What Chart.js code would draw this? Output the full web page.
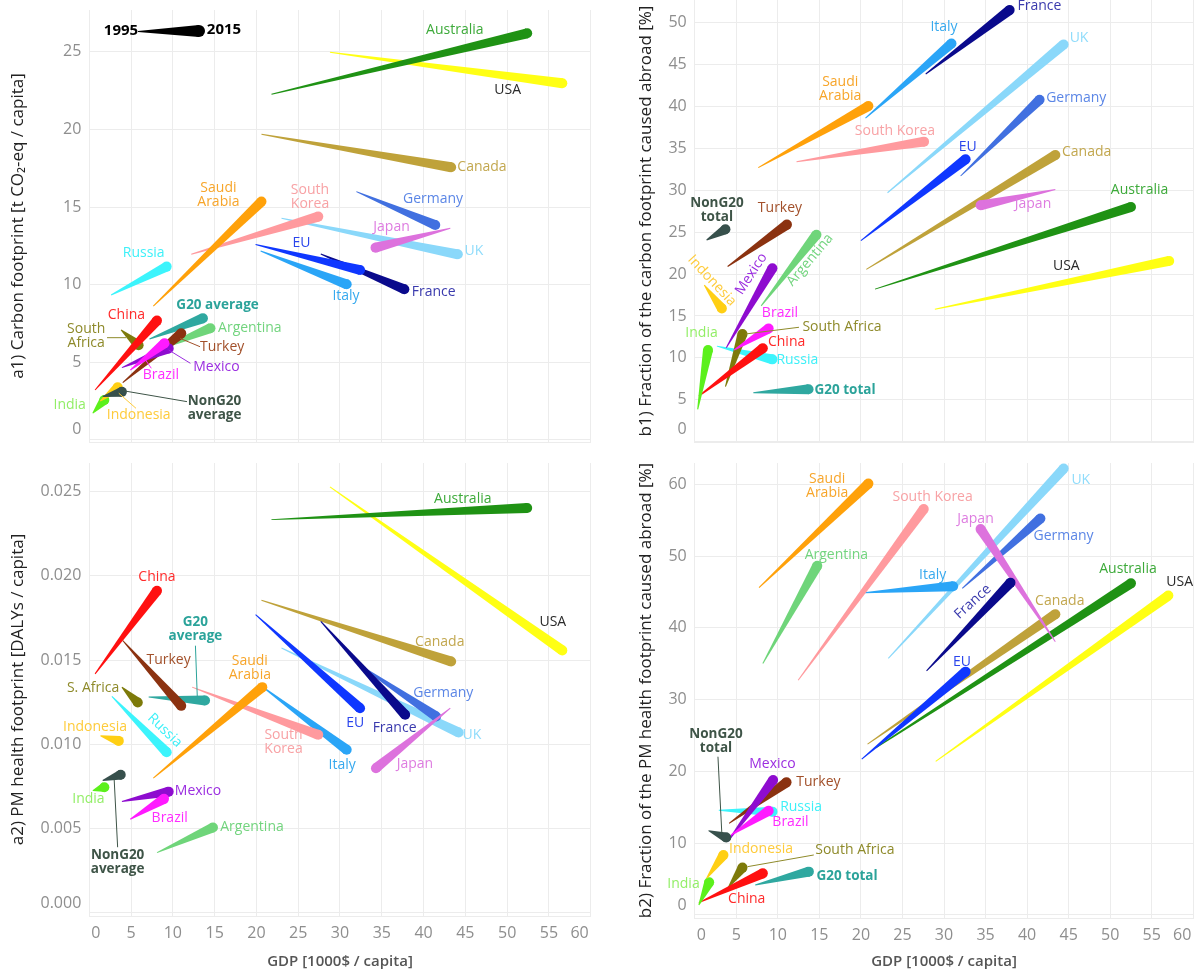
<!DOCTYPE html>
<html>
<head>
<meta charset="utf-8">
<title>Footprints vs GDP, 1995-2015</title>
<script src="https://cdn.jsdelivr.net/npm/chart.js@4.4.1/dist/chart.umd.min.js"></script>
<style>
  body { margin: 0; background: #fff; }
  #wrap { position: relative; width: 1198px; height: 976px; }
  #wrap canvas { position: absolute; }
</style>
</head>
<body>
<div id="wrap">
  <canvas id="a1" width="600" height="450" style="left:0;top:0"></canvas>
  <canvas id="b1" width="598" height="450" style="left:600px;top:0"></canvas>
  <canvas id="a2" width="600" height="526" style="left:0;top:450px"></canvas>
  <canvas id="b2" width="598" height="526" style="left:600px;top:450px"></canvas>
</div>
<script>
// countries / groups, same order in every panel (later ones draw on top)
const entities = ['USA', 'Australia', 'Canada', 'UK', 'Germany', 'Japan', 'France', 'EU', 'Italy',
  'South Korea', 'Saudi Arabia', 'Russia', 'G20', 'Argentina', 'Turkey', 'South Africa', 'China',
  'Mexico', 'Brazil', 'India', 'Indonesia', 'NonG20'];

// a1) carbon footprint per capita [t CO2-eq]
const a1Gdp95 = [28.8, 21.8, 20.6, 23.0, 31.96, 43.2, 27.7, 19.9, 20.5, 12.2, 7.66, 2.61, 7.2, 8.1, 4.0, 3.8, 0.69, 3.9, 4.9, 0.41, 1.3, 1.6];
const a1Gdp15 = [56.6, 52.4, 43.3, 44.1, 41.4, 34.25, 37.7, 32.4, 30.8, 27.4, 20.6, 9.26, 13.6, 14.5, 11.0, 5.9, 8.1, 9.5, 9.0, 1.8, 3.4, 3.9];
const a1Val95 = [24.98, 22.27, 19.7, 14.28, 16.0, 13.64, 11.98, 12.6, 12.18, 11.96, 8.63, 9.34, 6.5, 5.8, 3.7, 7.1, 3.22, 4.66, 4.5, 1.72, 2.5, 2.8];
const a1Val15 = [22.98, 26.2, 17.57, 11.96, 13.85, 12.39, 9.71, 10.95, 10.03, 14.39, 15.36, 11.17, 7.84, 7.2, 6.87, 6.1, 7.69, 5.9, 6.23, 2.58, 3.39, 3.1];

// a2) PM health footprint per capita [DALYs]
const a2Gdp95 = [28.8, 21.8, 20.6, 23.0, 31.96, 43.2, 27.7, 19.9, 20.5, 12.3, 7.66, 2.7, 7.1, 8.1, 4.0, 3.9, 0.69, 3.9, 4.9, 0.41, 1.33, 1.6];
const a2Gdp15 = [56.6, 52.4, 43.3, 44.2, 41.5, 34.3, 37.8, 32.4, 30.8, 27.4, 20.7, 9.26, 13.85, 14.8, 11.0, 5.8, 8.1, 9.5, 8.94, 1.8, 3.53, 3.76];
const a2Val95 = [0.02528, 0.02334, 0.01855, 0.01572, 0.01483, 0.01215, 0.0173, 0.0177, 0.0135, 0.0134, 0.0080, 0.01285, 0.01281, 0.00358, 0.01617, 0.0134, 0.01419, 0.00661, 0.00556, 0.00726, 0.01051, 0.00786];
const a2Val15 = [0.01558, 0.02403, 0.01492, 0.01071, 0.01166, 0.00859, 0.01176, 0.01215, 0.00968, 0.01057, 0.0134, 0.00954, 0.01261, 0.00507, 0.01229, 0.01249, 0.01912, 0.0072, 0.00677, 0.00746, 0.01021, 0.0082];

// b1) share of the carbon footprint caused abroad [%]
const b1Gdp95 = [28.9, 21.7, 20.65, 23.2, 32.0, 43.4, 27.8, 20.0, 20.55, 12.25, 7.65, 2.67, 7.05, 8.0, 3.96, 3.7, 0.5, 3.8, 4.75, 0.36, 1.15, 1.43];
const b1Gdp15 = [57.1, 52.5, 43.4, 44.4, 41.5, 34.4, 37.9, 32.6, 30.9, 27.6, 20.9, 9.35, 13.7, 14.65, 11.1, 5.75, 8.2, 9.35, 8.9, 1.6, 3.27, 3.7];
const b1Val95 = [15.8, 18.2, 20.56, 29.7, 31.7, 30.1, 43.87, 24.0, 38.6, 33.4, 32.7, 11.4, 5.85, 16.2, 20.9, 6.56, 5.45, 11.2, 10.94, 3.86, 18.7, 24.07];
const b1Val15 = [21.56, 28.0, 34.2, 47.4, 40.8, 28.2, 51.5, 33.7, 47.5, 35.8, 40.05, 9.82, 6.25, 24.7, 25.9, 12.85, 11.14, 20.7, 13.5, 10.94, 15.9, 25.34];

// b2) share of the PM health footprint caused abroad [%]
const b2Gdp95 = [29.0, 21.8, 20.8, 23.3, 32.2, 43.4, 27.9, 20.1, 20.4, 12.45, 7.74, 2.9, 7.28, 8.2, 4.14, 4.05, 0.5, 3.95, 4.38, 0.5, 1.43, 1.66];
const b2Gdp15 = [57.0, 52.5, 43.4, 44.4, 41.6, 34.4, 38.0, 32.6, 31.1, 27.56, 20.9, 9.36, 13.74, 14.75, 11.05, 5.75, 8.2, 9.44, 8.9, 1.74, 3.46, 3.8];
const b2Val95 = [21.4, 23.3, 23.8, 35.75, 45.5, 38.07, 34.0, 21.7, 44.9, 32.7, 45.6, 14.6, 4.18, 35.05, 12.77, 3.85, 1.72, 10.2, 11.14, 1.39, 5.1, 11.75];
const b2Val15 = [44.5, 46.2, 41.9, 62.2, 55.25, 53.76, 46.3, 33.9, 45.8, 56.55, 60.1, 14.4, 6.04, 48.65, 18.48, 6.6, 5.8, 18.8, 14.53, 4.55, 8.36, 10.8];

// year key in panel a1 (1995 thin end -> 2015 thick end)
const keyGdp = [5.83, 13.13];
const keyVal = [26.31, 26.35];

const shapeColors = {
  'USA': '#ffff14', 'Australia': '#1f9214', 'Canada': '#bfa23a', 'UK': '#8ad8fa', 'Germany': '#4170e0',
  'Japan': '#dd72dd', 'France': '#0a0a8c', 'EU': '#0f37ff', 'Italy': '#2aa5f7', 'South Korea': '#ff9a9e',
  'Saudi Arabia': '#ffa10a', 'Russia': '#3cf4fc', 'G20': '#2fa8a0', 'Argentina': '#6fd57a', 'Turkey': '#8b3210',
  'South Africa': '#7d7a0a', 'China': '#ff1010', 'Mexico': '#8e0ccf', 'Brazil': '#ff1aff', 'India': '#5cf01c',
  'Indonesia': '#ffcf14', 'NonG20': '#37504c', 'key': '#000000'
};
const labelColors = {
  'USA': '#2a2a2a', 'Australia': '#3daa3a', 'Canada': '#c2a74e', 'UK': '#8fdcfb', 'Germany': '#5b86e6',
  'Japan': '#de7ce0', 'France': '#3a3aad', 'EU': '#2a45ec', 'Italy': '#37a9ee', 'South Korea': '#f8a2a5',
  'Saudi Arabia': '#f7a52a', 'Russia': '#3ef0f8', 'G20': '#2ba39a', 'Argentina': '#72d47e', 'Turkey': '#a2502a',
  'South Africa': '#8e8a2a', 'China': '#ff2a2a', 'Mexico': '#9b2ee0', 'Brazil': '#ff2cff', 'India': '#92ee66',
  'Indonesia': '#fecb3a', 'NonG20': '#3e5447', 'key': '#000000'
};

// text annotations, anchored in data units (x = GDP, y = panel value)
const a1Labels = [
  {e: 'key', t: '1995', x: 3.79, y: 26.35, b: 1, s: 15}, {e: 'key', t: '2015', x: 16.12, y: 26.40, b: 1, s: 15},
  {e: 'Australia', t: 'Australia', x: 43.74, y: 26.42}, {e: 'USA', t: 'USA', x: 50.07, y: 22.55},
  {e: 'Canada', t: 'Canada', x: 46.99, y: 17.57}, {e: 'Saudi Arabia', t: ['Saudi', 'Arabia'], x: 15.45, y: 15.79},
  {e: 'South Korea', t: ['South', 'Korea'], x: 26.41, y: 15.64}, {e: 'Germany', t: 'Germany', x: 41.13, y: 15.51},
  {e: 'Japan', t: 'Japan', x: 36.17, y: 13.74}, {e: 'UK', t: 'UK', x: 46.03, y: 12.18},
  {e: 'EU', t: 'EU', x: 25.39, y: 12.67}, {e: 'Russia', t: 'Russia', x: 6.51, y: 12.03},
  {e: 'Italy', t: 'Italy', x: 30.72, y: 9.28}, {e: 'France', t: 'France', x: 41.21, y: 9.52},
  {e: 'G20', t: 'G20 average', x: 15.35, y: 8.70, b: 1}, {e: 'China', t: 'China', x: 4.44, y: 8.05},
  {e: 'Argentina', t: 'Argentina', x: 19.21, y: 7.2},
  {e: 'South Africa', t: ['South', 'Africa'], x: -0.37, y: 6.7, line: [2.12, 6.59, 4.44, 6.59]},
  {e: 'Turkey', t: 'Turkey', x: 15.9, y: 5.97, line: [13.25, 6.01, 10.85, 6.55]},
  {e: 'Mexico', t: 'Mexico', x: 15.22, y: 4.68, line: [12.1, 4.94, 9.49, 5.8]},
  {e: 'Brazil', t: 'Brazil', x: 8.57, y: 4.19, line: [7.42, 4.62, 6.74, 5.15]},
  {e: 'India', t: 'India', x: -2.35, y: 2.26},
  {e: 'Indonesia', t: 'Indonesia', x: 5.91, y: 1.61, line: [5.59, 2.04, 3.53, 3.01]},
  {e: 'NonG20', t: ['NonG20', 'average'], x: 14.99, y: 2.04, b: 1, line: [11.69, 2.47, 3.98, 3.18]}
];
const a2Labels = [
  {e: 'Australia', t: 'Australia', x: 44.69, y: 0.02458}, {e: 'USA', t: 'USA', x: 55.47, y: 0.01724},
  {e: 'Canada', t: 'Canada', x: 41.94, y: 0.01605}, {e: 'China', t: 'China', x: 8.1, y: 0.01993},
  {e: 'G20', t: ['G20', 'average'], x: 12.7, y: 0.01685, b: 1, line: [12.7, 0.01586, 12.92, 0.01284]},
  {e: 'Turkey', t: 'Turkey', x: 9.49, y: 0.01502}, {e: 'Saudi Arabia', t: ['Saudi', 'Arabia'], x: 19.21, y: 0.01453},
  {e: 'South Africa', t: 'S. Africa', x: 0.45, y: 0.01334}, {e: 'Germany', t: 'Germany', x: 42.36, y: 0.01305},
  {e: 'Indonesia', t: 'Indonesia', x: 0.68, y: 0.01106}, {e: 'Russia', t: 'Russia', x: 9.03, y: 0.01083, r: 44},
  {e: 'EU', t: 'EU', x: 31.82, y: 0.0113}, {e: 'France', t: 'France', x: 36.53, y: 0.01097},
  {e: 'South Korea', t: ['South', 'Korea'], x: 23.24, y: 0.01015}, {e: 'UK', t: 'UK', x: 45.79, y: 0.01053},
  {e: 'Italy', t: 'Italy', x: 30.25, y: 0.00879}, {e: 'Japan', t: 'Japan', x: 38.97, y: 0.00883},
  {e: 'Mexico', t: 'Mexico', x: 13.01, y: 0.00724}, {e: 'India', t: 'India', x: -0.1, y: 0.00677},
  {e: 'Brazil', t: 'Brazil', x: 9.62, y: 0.00566}, {e: 'Argentina', t: 'Argentina', x: 19.47, y: 0.00509},
  {e: 'NonG20', t: ['NonG20', 'average'], x: 3.39, y: 0.00299, b: 1, line: [3.39, 0.0039, 2.98, 0.0079]}
];
const b1Labels = [
  {e: 'France', t: 'France', x: 41.49, y: 51.99}, {e: 'Italy', t: 'Italy', x: 30.0, y: 49.45},
  {e: 'UK', t: 'UK', x: 46.25, y: 48.14}, {e: 'Saudi Arabia', t: ['Saudi', 'Arabia'], x: 17.51, y: 42.11},
  {e: 'South Korea', t: 'South Korea', x: 24.1, y: 37.08}, {e: 'Germany', t: 'Germany', x: 45.91, y: 40.98},
  {e: 'EU', t: 'EU', x: 32.86, y: 35.2}, {e: 'Canada', t: 'Canada', x: 47.16, y: 34.53},
  {e: 'Japan', t: 'Japan', x: 40.71, y: 28.37}, {e: 'Australia', t: 'Australia', x: 53.53, y: 30.04},
  {e: 'USA', t: 'USA', x: 44.72, y: 20.97}, {e: 'NonG20', t: ['NonG20', 'total'], x: 2.67, y: 27.59, b: 1},
  {e: 'Turkey', t: 'Turkey', x: 10.26, y: 27.85}, {e: 'Indonesia', t: 'Indonesia', x: 2.07, y: 19.21, r: 47},
  {e: 'Mexico', t: 'Mexico', x: 6.81, y: 20.01, r: -57}, {e: 'Argentina', t: 'Argentina', x: 13.87, y: 21.68, r: -50},
  {e: 'Brazil', t: 'Brazil', x: 10.26, y: 15.32},
  {e: 'South Africa', t: 'South Africa', x: 17.73, y: 13.65, line: [12.55, 13.65, 6.13, 12.85]},
  {e: 'India', t: 'India', x: 0.82, y: 13.01}, {e: 'China', t: 'China', x: 11.06, y: 11.86},
  {e: 'Russia', t: 'Russia', x: 12.35, y: 9.75}, {e: 'G20', t: 'G20 total', x: 18.09, y: 6.17, b: 1}
];
const b2Labels = [
  {e: 'Saudi Arabia', t: ['Saudi', 'Arabia'], x: 15.94, y: 59.79}, {e: 'South Korea', t: 'South Korea', x: 28.63, y: 58.26},
  {e: 'UK', t: 'UK', x: 46.46, y: 60.58}, {e: 'Japan', t: 'Japan', x: 33.79, y: 55.15},
  {e: 'Germany', t: 'Germany', x: 44.39, y: 52.83}, {e: 'Argentina', t: 'Argentina', x: 17.05, y: 50.14},
  {e: 'Italy', t: 'Italy', x: 28.63, y: 47.35}, {e: 'Australia', t: 'Australia', x: 52.14, y: 48.19},
  {e: 'USA', t: 'USA', x: 58.36, y: 46.34}, {e: 'France', t: 'France', x: 33.47, y: 43.64, r: -42},
  {e: 'Canada', t: 'Canada', x: 43.93, y: 43.77}, {e: 'EU', t: 'EU', x: 32.17, y: 35.28},
  {e: 'NonG20', t: ['NonG20', 'total'], x: 2.56, y: 24.23, b: 1, line: [2.8, 22.05, 3.26, 11.46]},
  {e: 'Mexico', t: 'Mexico', x: 9.35, y: 21.03}, {e: 'Turkey', t: 'Turkey', x: 14.89, y: 18.48},
  {e: 'Russia', t: 'Russia', x: 12.8, y: 15.08}, {e: 'Brazil', t: 'Brazil', x: 11.52, y: 12.91},
  {e: 'Indonesia', t: 'Indonesia', x: 7.98, y: 9.15},
  {e: 'South Africa', t: 'South Africa', x: 19.27, y: 9.05, line: [14.33, 8.36, 6.35, 6.73]},
  {e: 'G20', t: 'G20 total', x: 18.34, y: 5.43, b: 1}, {e: 'India', t: 'India', x: -1.35, y: 4.28},
  {e: 'China', t: 'China', x: 6.26, y: 2.19}
];

const FONT = '"Open Sans", "Noto Sans", sans-serif';
const GRID = '#ececec';
const TICK = '#8e8e8e';
const TICK_SIZE = 16;

// tapered stroke: thin at the 1995 point, round thick end at 2015
const comets = {
  id: 'comets',
  afterDatasetsDraw(chart, args, opts) {
    const ctx = chart.ctx;
    ctx.save();
    chart.data.datasets.forEach((ds, i) => {
      const pts = chart.getDatasetMeta(i).data;
      if (pts.length < 2) return;
      const x0 = pts[0].x, y0 = pts[0].y, x1 = pts[1].x, y1 = pts[1].y;
      const r = ds.capRadius || opts.radius;
      const len = Math.hypot(x1 - x0, y1 - y0) || 1;
      const nx = -(y1 - y0) / len, ny = (x1 - x0) / len;
      ctx.fillStyle = ds.borderColor;
      ctx.beginPath();
      ctx.moveTo(x0 + nx * 0.5, y0 + ny * 0.5);
      ctx.lineTo(x1 + nx * r, y1 + ny * r);
      ctx.lineTo(x1 - nx * r, y1 - ny * r);
      ctx.lineTo(x0 - nx * 0.5, y0 - ny * 0.5);
      ctx.closePath();
      ctx.fill();
      ctx.beginPath();
      ctx.arc(x1, y1, r, 0, Math.PI * 2);
      ctx.fill();
    });
    ctx.restore();
  },
  afterDraw(chart, args, opts) {
    const ctx = chart.ctx, xs = chart.scales.x, ys = chart.scales.y;
    const area = chart.chartArea;
    ctx.save();
    // end-of-axis tick labels are pulled inside the plot edges
    ctx.font = TICK_SIZE + 'px ' + FONT;
    ctx.fillStyle = TICK;
    ctx.textBaseline = 'middle';
    ctx.textAlign = 'right';
    ctx.fillText(opts.yZero, ys.right - 8, area.bottom - 13);
    if (opts.showX) {
      const ty = area.bottom + 8 + TICK_SIZE * 0.6;
      ctx.textAlign = 'left';
      ctx.fillText('0', area.left + 2, ty);
      ctx.textAlign = 'right';
      ctx.fillText('60', area.right - 2, ty);
    }
    (opts.labels || []).forEach(l => {
      const col = labelColors[l.e];
      if (l.line) {
        ctx.strokeStyle = col;
        ctx.lineWidth = 1;
        ctx.beginPath();
        ctx.moveTo(xs.getPixelForValue(l.line[0]), ys.getPixelForValue(l.line[1]));
        ctx.lineTo(xs.getPixelForValue(l.line[2]), ys.getPixelForValue(l.line[3]));
        ctx.stroke();
      }
      const lines = Array.isArray(l.t) ? l.t : [l.t];
      ctx.save();
      ctx.translate(xs.getPixelForValue(l.x), ys.getPixelForValue(l.y));
      if (l.r) ctx.rotate(l.r * Math.PI / 180);
      ctx.font = (l.b ? '700 ' : '') + (l.s || (l.b ? 13.5 : 14)) + 'px ' + FONT;
      ctx.fillStyle = col;
      ctx.textAlign = 'center';
      ctx.textBaseline = 'middle';
      lines.forEach((s, k) => ctx.fillText(s, 0, (k - (lines.length - 1) / 2) * 14));
      ctx.restore();
    });
    ctx.restore();
  }
};

function makeDatasets(g95, g15, v95, v15) {
  return entities.map((name, i) => ({
    label: name,
    data: [{x: g95[i], y: v95[i]}, {x: g15[i], y: v15[i]}],
    borderColor: shapeColors[name],
    showLine: false,
    pointRadius: 0,
    pointHoverRadius: 0
  }));
}

function makePanel(id, p) {
  const datasets = makeDatasets(p.g95, p.g15, p.v95, p.v15);
  if (p.key) {
    datasets.push({
      label: 'key', data: [{x: keyGdp[0], y: keyVal[0]}, {x: keyGdp[1], y: keyVal[1]}],
      borderColor: shapeColors.key, showLine: false, pointRadius: 0, capRadius: 6
    });
  }
  const fmt = p.fmt || (v => String(v));
  return new Chart(document.getElementById(id), {
    type: 'scatter',
    data: {datasets},
    plugins: [comets],
    options: {
      responsive: false,
      devicePixelRatio: 1,
      animation: false,
      events: [],
      layout: {padding: {left: 0, top: p.top, right: p.right, bottom: 0}, autoPadding: false},
      plugins: {
        legend: {display: false}, tooltip: {enabled: false},
        comets: {radius: 5, labels: p.labels, yZero: fmt(0), showX: p.showX}
      },
      scales: {
        x: {
          type: 'linear', min: 0, max: 60,
          afterFit(s) { s.height = p.xh; s.paddingLeft = 0; s.paddingRight = 0; },
          ticks: {display: p.showX, stepSize: 5, includeBounds: false, padding: 8, maxRotation: 0,
            color: TICK, font: {family: FONT, size: TICK_SIZE},
            callback: v => (v === 0 || v === 60) ? '' : String(v)},
          grid: {color: GRID, drawTicks: false},
          border: {color: GRID},
          title: {display: p.showX, text: 'GDP [1000$ / capita]', color: '#555',
            font: {family: FONT, size: 15, weight: '600'}, padding: {top: 0, bottom: 5}}
        },
        y: {
          min: p.ymin, max: p.ymax,
          afterFit(s) { s.width = p.yw; s.paddingTop = 0; s.paddingBottom = 0; },
          ticks: {stepSize: p.step, includeBounds: false, padding: 8, color: TICK,
            font: {family: FONT, size: TICK_SIZE},
            callback: v => Math.abs(v) < 1e-9 ? '' : fmt(v)},
          grid: {color: GRID, drawTicks: false},
          border: {color: GRID},
          title: {display: true, text: p.title, color: '#222',
            font: {family: FONT, size: 17}, padding: {top: p.tpad, bottom: 0}}
        }
      }
    }
  });
}

makePanel('a1', {
  g95: a1Gdp95, g15: a1Gdp15, v95: a1Val95, v15: a1Val15, labels: a1Labels, key: true,
  top: 10, right: 9.3, xh: 8, yw: 89.3, showX: false, ymin: -0.13, ymax: 27.7, step: 5,
  title: 'a1) Carbon footprint [t CO\u2082-eq / capita]', tpad: 8.1
});
makePanel('a2', {
  g95: a2Gdp95, g15: a2Gdp15, v95: a2Val95, v15: a2Val15, labels: a2Labels,
  top: 13, right: 9.3, xh: 60, yw: 89.3, showX: true, ymin: -0.00018, ymax: 0.0267, step: 0.005,
  fmt: v => v.toFixed(3),
  title: 'a2) PM health footprint [DALYs / capita]', tpad: 8.1
});
makePanel('b1', {
  g95: b1Gdp95, g15: b1Gdp15, v95: b1Val95, v15: b1Val15, labels: b1Labels,
  top: 0, right: 4.7, xh: 8, yw: 94.7, showX: false, ymin: -0.04, ymax: 52.7, step: 5,
  title: 'b1) Fraction of the carbon footprint caused abroad [%]', tpad: 35.6
});
makePanel('b2', {
  g95: b2Gdp95, g15: b2Gdp15, v95: b2Val95, v15: b2Val15, labels: b2Labels,
  top: 13, right: 4.7, xh: 58, yw: 94.7, showX: true, ymin: -0.42, ymax: 62.97, step: 10,
  title: 'b2) Fraction of the PM health footprint caused abroad [%]', tpad: 35.6
});
</script>
</body>
</html>
